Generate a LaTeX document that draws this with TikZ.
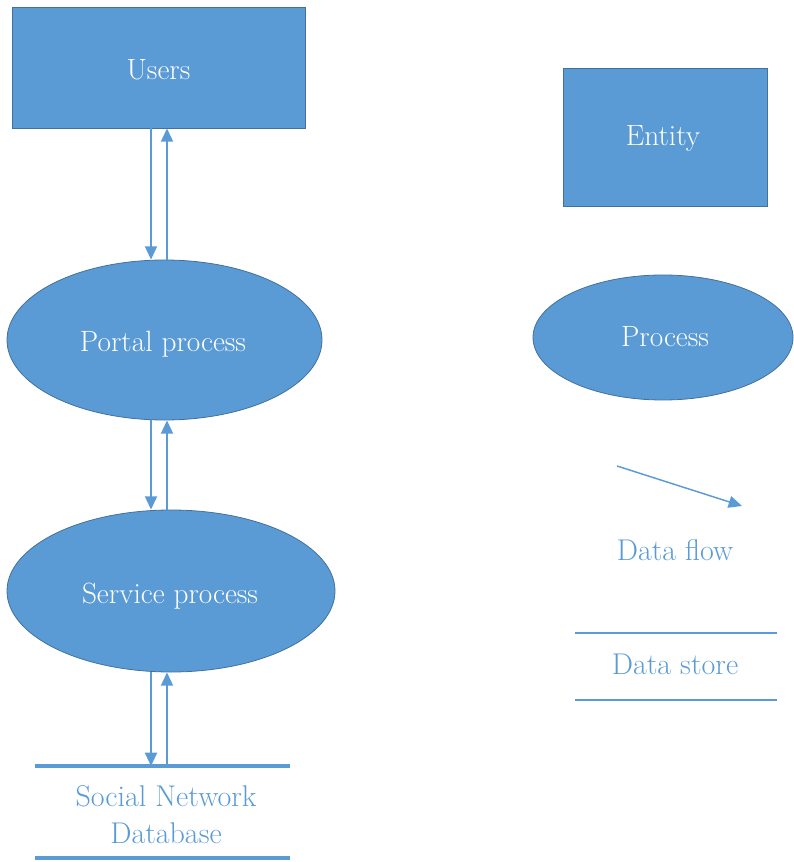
\documentclass[tikz,border=0pt]{standalone}
\usetikzlibrary{arrows.meta,shapes.geometric}
\definecolor{dfdblue}{HTML}{5B9BD5}
\definecolor{dfdedge}{HTML}{41719C}
\begin{document}
\begin{tikzpicture}[x=0.75pt,y=-0.75pt,
  ent/.style={rectangle,fill=dfdblue,draw=dfdedge,line width=0.6pt,inner sep=0pt},
  proc/.style={ellipse,fill=dfdblue,draw=dfdedge,line width=0.6pt,inner sep=0pt},
  wtxt/.style={text=white,font=\fontsize{22}{26}\selectfont,inner sep=0pt},
  lbl/.style={text=dfdblue,font=\fontsize{22.5}{27.75}\selectfont,align=center,inner sep=0pt},
  flow/.style={draw=dfdblue,line width=1.5pt,-{Triangle[length=10pt,width=9pt]}},
  storeline/.style={draw=dfdblue}
]
\useasboundingbox (0,0) rectangle (793,862);
% entities
\node[ent,minimum width=219.75pt,minimum height=90.75pt] (users) at (158.5,67.5) {};
\node[ent,minimum width=153pt,minimum height=103.5pt] (entity) at (665,137) {};
\node[wtxt] (userstxt) at (158.5,70) {Users};
\node[wtxt] (entitytxt) at (663,138) {Entity};
% processes
\node[proc,minimum width=236.25pt,minimum height=120pt] (portal) at (164.5,340) {};
\node[proc,minimum width=195pt,minimum height=93.75pt] (process) at (663,337.5) {};
\node[proc,minimum width=246pt,minimum height=121.5pt] (service) at (171,591) {};
\node[wtxt] (portaltxt) at (163,344) {Portal process};
\node[wtxt] (processtxt) at (665,337) {Process};
\node[wtxt] (servicetxt) at (170,596) {Service process};
% data store (database)
\coordinate (dbtl) at (35,766);
\coordinate (dbtr) at (290,766);
\coordinate (dbbl) at (35,858);
\coordinate (dbbr) at (290,858);
\node[lbl] (db) at (166,815) {Social Network\\Database};
\draw[storeline,line width=3pt] (dbtl) -- (dbtr);
\draw[storeline,line width=3pt] (dbbl) -- (dbbr);
% legend data store
\coordinate (dstl) at (575,633);
\coordinate (dstr) at (777,633);
\coordinate (dsbl) at (575,700);
\coordinate (dsbr) at (777,700);
\node[lbl] (ds) at (675,664) {Data store};
\draw[storeline,line width=2pt] (dstl) -- (dstr);
\draw[storeline,line width=2pt] (dsbl) -- (dsbr);
% legend data flow
\coordinate (dfa) at (617,466);
\coordinate (dfb) at (742,506);
\draw[flow,line width=1.1pt] (dfa) -- (dfb);
\node[lbl] (df) at (675,550) {Data flow};
% connector columns
\coordinate (dn) at (151,0);
\coordinate (up) at (167,0);
\draw[flow] (users.south -| dn) -- (portal.north -| dn);
\draw[flow] (portal.north -| up) -- (users.south -| up);
\draw[flow] (portal.south -| dn) -- (service.north -| dn);
\draw[flow] (service.north -| up) -- (portal.south -| up);
\draw[flow] (service.south -| dn) -- (dbtl -| dn);
\draw[flow] (dbtl -| up) -- (service.south -| up);
\end{tikzpicture}
\end{document}
